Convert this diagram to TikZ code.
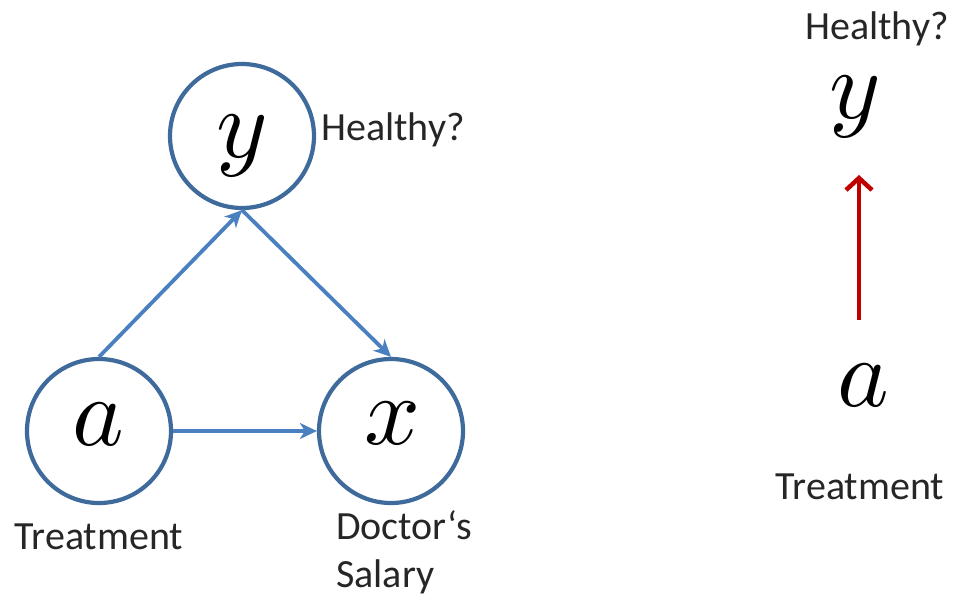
\documentclass[tikz,border=0pt]{standalone}
\usepackage{fontspec}
\usepackage{graphicx}
\setmainfont{Carlito}
\usetikzlibrary{arrows.meta}
\definecolor{circblue}{HTML}{3E6A9C}
\definecolor{arrblue}{HTML}{4A80C0}
\definecolor{arrred}{HTML}{C00000}
\newcommand{\bigvar}[1]{\scalebox{9.8}{$#1$}}
\tikzset{
  var/.style={circle, draw=circblue, line width=4.2pt, minimum size=144pt, inner sep=0pt},
  plainvar/.style={inner sep=0pt},
  lbl/.style={inner sep=0pt, font=\fontsize{40}{48}\selectfont, text=black!85},
  bluearr/.style={draw=arrblue, line width=3.8pt, -{Stealth[length=17pt,width=16pt,inset=5pt]}},
  redarr/.style={draw=arrred, line width=4.5pt, -{Straight Barb[length=12pt,width=26pt]}}
}
\begin{document}
\begin{tikzpicture}[x=1pt,y=-1pt]
\useasboundingbox (0,0) rectangle (957,600);
\node[var] (y) at (242,136) {};
\node[var] (a) at (99,431) {};
\node[var] (x) at (391,431) {};
\node[plainvar] (yv) at (242,146) {\bigvar{y}};
\node[plainvar] (av) at (98,424) {\bigvar{a}};
\node[plainvar] (xv) at (392,423) {\bigvar{x}};
\node[lbl, anchor=west] (hy) at (321,130) {Healthy?};
\node[lbl] (ta) at (99,537) {Treatment};
\node[lbl, anchor=west, align=left] (ds) at (336,552) {Doctor‘s\\Salary};
\draw[bluearr] (a.north) -- (y.south);
\draw[bluearr] (y.south) -- (x.north);
\draw[bluearr] (a.east) -- (x.west);
% right
\node[lbl] (hy2) at (877,29) {Healthy?};
\node[plainvar] (y2) at (855,107) {\bigvar{y}};
\node[plainvar] (a2) at (863,385) {\bigvar{a}};
\node[lbl] (ta2) at (860,487) {Treatment};
\coordinate (r0) at (859,320);
\coordinate (r1) at (859,175);
\draw[redarr] (r0) -- (r1);
\end{tikzpicture}
\end{document}
